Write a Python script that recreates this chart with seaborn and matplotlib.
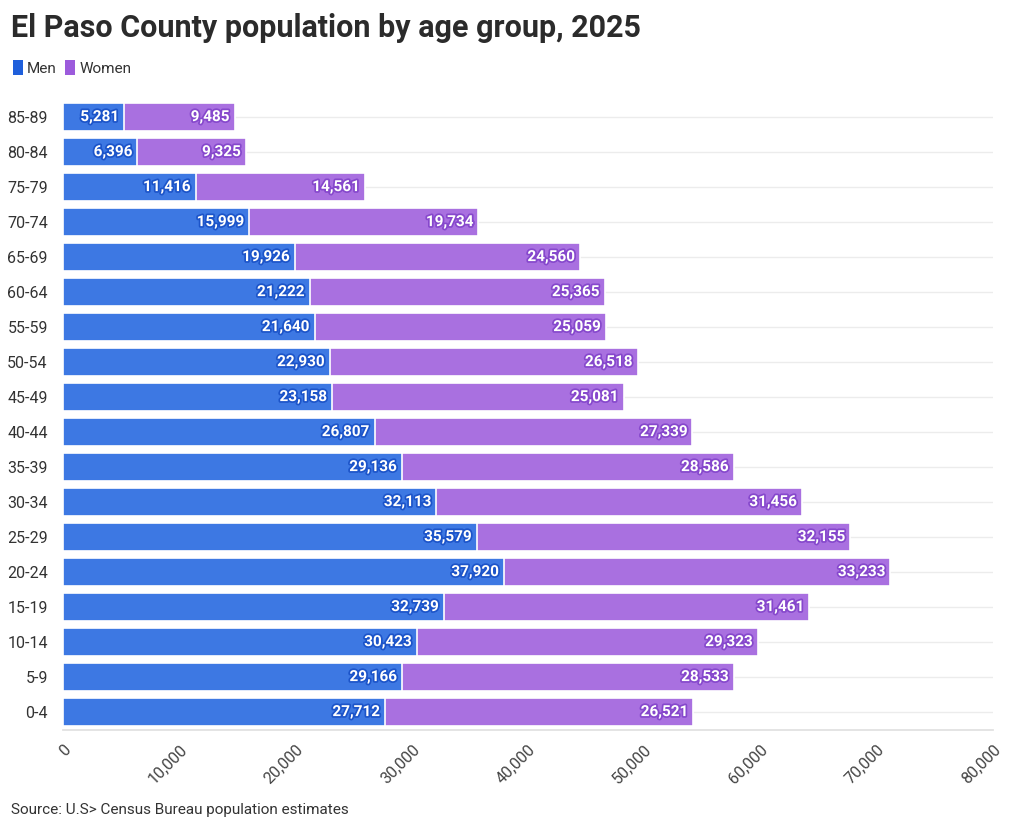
import matplotlib
matplotlib.use("Agg")
import matplotlib.pyplot as plt
import matplotlib.patheffects as pe
from matplotlib.patches import Patch
import seaborn as sns
import pandas as pd
import numpy as np

age_groups = ["85-89", "80-84", "75-79", "70-74", "65-69", "60-64", "55-59", "50-54",
              "45-49", "40-44", "35-39", "30-34", "25-29", "20-24", "15-19", "10-14",
              "5-9", "0-4"]
men = [5281, 6396, 11416, 15999, 19926, 21222, 21640, 22930, 23158, 26807, 29136,
       32113, 35579, 37920, 32739, 30423, 29166, 27712]
women = [9485, 9325, 14561, 19734, 24560, 25365, 25059, 26518, 25081, 27339, 28586,
         31456, 32155, 33233, 31461, 29323, 28533, 26521]
x_ticks = [0, 10000, 20000, 30000, 40000, 50000, 60000, 70000, 80000]

MEN_C = "#3d78e3"
WOMEN_C = "#a970e0"
MEN_DARK = "#1c54c9"
WOMEN_DARK = "#8648cc"

df = pd.DataFrame({"age": age_groups, "men": men, "women": women})
df["total"] = df["men"] + df["women"]

sns.set_theme(style="white")
plt.rcParams["font.family"] = ["Roboto", "DejaVu Sans"]

fig = plt.figure(figsize=(10.2, 8.3), dpi=100)
ax = fig.add_axes([0.0618, 0.121, 0.9117, 0.759])

sns.barplot(data=df, y="age", x="total", color=WOMEN_C, orient="h", ax=ax,
            width=0.8, edgecolor="white", linewidth=1.2, saturation=1, zorder=2)
sns.barplot(data=df, y="age", x="men", color=MEN_C, orient="h", ax=ax,
            width=0.8, edgecolor="white", linewidth=1.2, saturation=1, zorder=3)

n = len(age_groups)
ax.set_ylim(n - 0.5, -0.5)
ax.set_xlim(0, 80000)
ax.set_xticks(x_ticks)
ax.set_xticklabels([f"{t:,}" for t in x_ticks], rotation=45, ha="right",
                   rotation_mode="anchor", fontsize=11.5, color="#444444")
ax.tick_params(axis="x", length=5, color="#e0e0e0", width=1, pad=4)
ax.tick_params(axis="y", length=0, labelsize=11.5, labelcolor="#333333", pad=11)
ax.set_xlabel("")
ax.set_ylabel("")
for s in ["top", "right", "left"]:
    ax.spines[s].set_visible(False)
ax.spines["bottom"].set_color("#e0e0e0")
ax.yaxis.grid(True, color="#ececec", linewidth=1, zorder=0)
ax.set_axisbelow(True)

for i, (m, w) in enumerate(zip(men, women)):
    ax.text(m - 450, i, f"{m:,}", ha="right", va="center", fontsize=11,
            fontweight="bold", color="white", zorder=5,
            path_effects=[pe.withStroke(linewidth=2.5, foreground=MEN_DARK)])
    ax.text(m + w - 450, i, f"{w:,}", ha="right", va="center", fontsize=11,
            fontweight="bold", color="white", zorder=5,
            path_effects=[pe.withStroke(linewidth=2.5, foreground=WOMEN_DARK)])

fig.text(0.011, 0.966, "El Paso County population by age group, 2025", fontsize=22,
         fontweight="bold", color="#2b2b2b", ha="left", va="center")

handles = [Patch(facecolor="#1f5fdb", edgecolor="none", label="Men"),
           Patch(facecolor="#9c5bdc", edgecolor="none", label="Women")]
fig.legend(handles=handles, loc="center left", bbox_to_anchor=(-0.001, 0.918),
           ncol=2, frameon=False, fontsize=11, handlelength=0.7, handleheight=1.1,
           handletextpad=0.25, columnspacing=0.5, labelcolor="#333333")

fig.text(0.011, 0.024, "Source: U.S> Census Bureau population estimates", fontsize=11,
         color="#333333", ha="left", va="center")

fig.savefig("out.png", dpi=100)
